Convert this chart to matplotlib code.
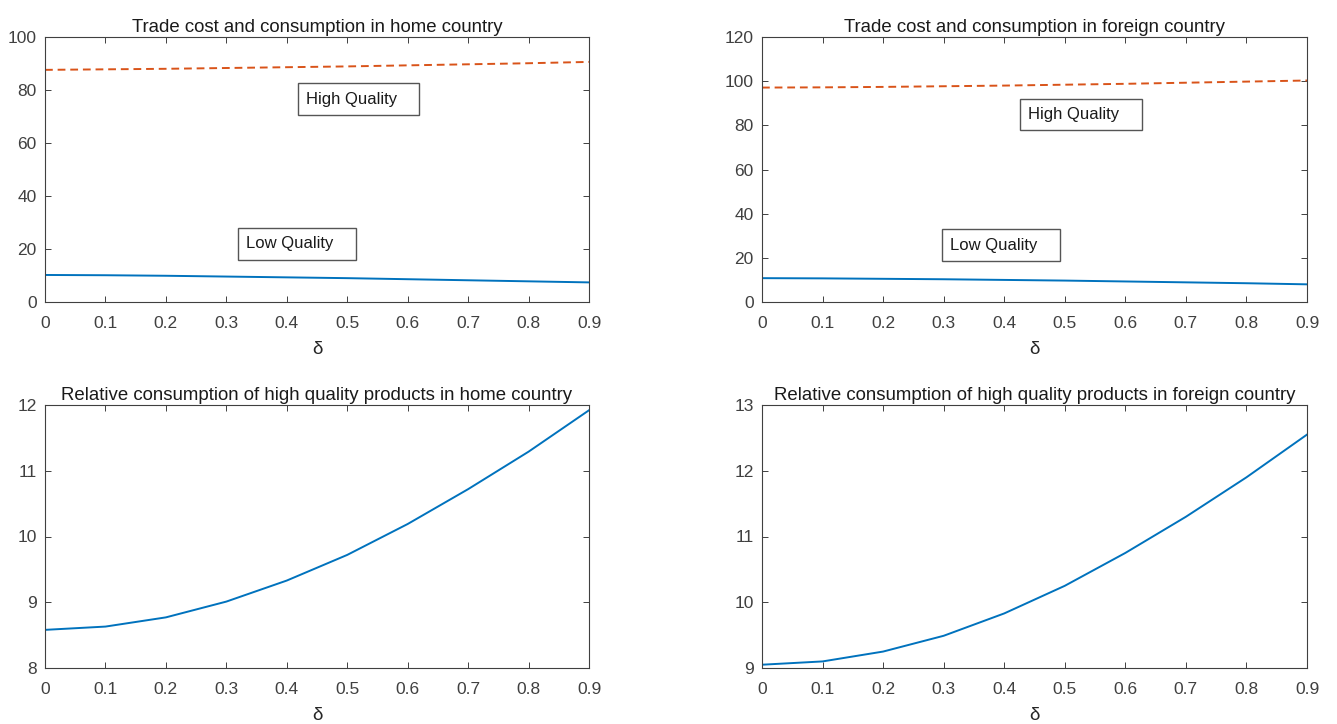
import numpy as np
import matplotlib
matplotlib.use("Agg")
import matplotlib.pyplot as plt

plt.rcParams['font.family'] = ['Liberation Sans', 'DejaVu Sans']

delta = [0, 0.1, 0.2, 0.3, 0.4, 0.5, 0.6, 0.7, 0.8, 0.9]

# trade cost and consumption
high_home = [87.6, 87.8, 88.0, 88.3, 88.6, 88.9, 89.3, 89.7, 90.1, 90.6]
low_home = [10.2, 10.1, 9.9, 9.6, 9.3, 9.0, 8.6, 8.2, 7.8, 7.4]
high_foreign = [97.1, 97.2, 97.4, 97.7, 98.0, 98.4, 98.8, 99.3, 99.8, 100.3]
low_foreign = [10.8, 10.7, 10.5, 10.3, 10.0, 9.7, 9.3, 8.9, 8.5, 8.0]

# relative consumption of high quality products
rel_home = [8.58, 8.63, 8.77, 9.01, 9.33, 9.72, 10.19, 10.72, 11.29, 11.92]
rel_foreign = [9.05, 9.10, 9.25, 9.49, 9.83, 10.25, 10.75, 11.30, 11.90, 12.55]

blue = '#0072BD'
orange = '#D95319'
axcol = '#404040'

W, H = 1337, 724
fig = plt.figure(figsize=(W / 100, H / 100), dpi=100)


def make_ax(x0, y0, x1, y1):
    ax = fig.add_axes([x0 / W, 1 - y1 / H, (x1 - x0) / W, (y1 - y0) / H])
    ax.tick_params(direction='in', top=True, right=True, labelsize=12.5,
                   colors=axcol, length=4, width=0.7)
    ax.tick_params(axis='x', pad=10)
    ax.tick_params(axis='y', pad=6)
    for s in ax.spines.values():
        s.set_color(axcol)
        s.set_linewidth(0.8)
    ax.set_xlim(0, 0.9)
    ax.set_xticks(np.arange(0, 0.91, 0.1))
    ax.set_xticklabels(['0', '0.1', '0.2', '0.3', '0.4', '0.5', '0.6', '0.7', '0.8', '0.9'])
    ax.set_xlabel('δ', fontsize=13.5, color='#262626', labelpad=7)
    return ax


box = dict(boxstyle='square,pad=0.5', fc='white', ec='#555555', lw=1.0)
tkw = dict(ha='left', va='center', fontsize=12, color='#1a1a1a', bbox=box)
title_kw = dict(fontsize=13.4, color='#1a1a1a', pad=3.5)

ax1 = make_ax(45, 37, 589, 302)
ax1.plot(delta, high_home, '--', color=orange, lw=1.4, dashes=(4, 2.5))
ax1.plot(delta, low_home, '-', color=blue, lw=1.4)
ax1.set_ylim(0, 100)
ax1.set_yticks(range(0, 101, 20))
ax1.set_title('Trade cost and consumption in home country', **title_kw)
ax1.text(0.432, 76.6, 'High Quality   ', **tkw)
ax1.text(0.333, 21.9, 'Low Quality   ', **tkw)

ax2 = make_ax(762, 37, 1307, 302)
ax2.plot(delta, high_foreign, '--', color=orange, lw=1.4, dashes=(4, 2.5))
ax2.plot(delta, low_foreign, '-', color=blue, lw=1.4)
ax2.set_ylim(0, 120)
ax2.set_yticks(range(0, 121, 20))
ax2.set_title('Trade cost and consumption in foreign country', **title_kw)
ax2.text(0.44, 84.9, 'High Quality   ', **tkw)
ax2.text(0.311, 25.8, 'Low Quality   ', **tkw)

ax3 = make_ax(45, 405, 589, 668)
ax3.plot(delta, rel_home, '-', color=blue, lw=1.4)
ax3.set_ylim(8, 12)
ax3.set_yticks(range(8, 13))
ax3.set_title('Relative consumption of high quality products in home country', **title_kw)

ax4 = make_ax(762, 405, 1307, 668)
ax4.plot(delta, rel_foreign, '-', color=blue, lw=1.4)
ax4.set_ylim(9, 13)
ax4.set_yticks(range(9, 14))
ax4.set_title('Relative consumption of high quality products in foreign country', **title_kw)

fig.savefig('out.png', dpi=100)
